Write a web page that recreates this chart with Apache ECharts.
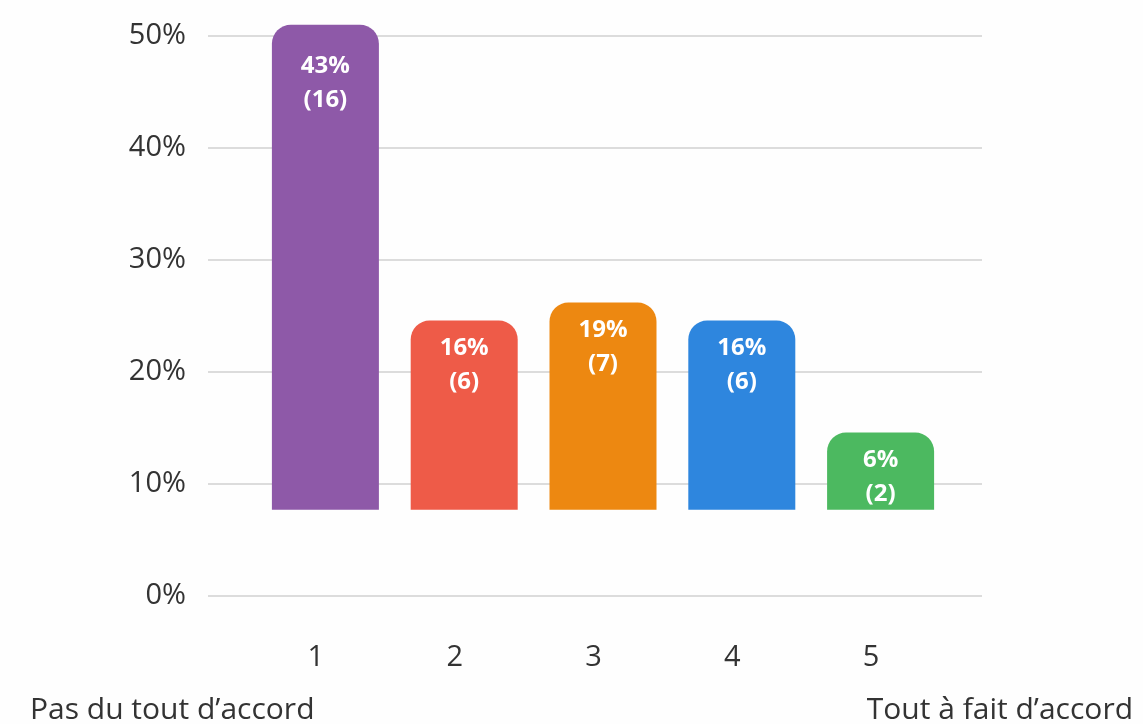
<!DOCTYPE html>
<html>
<head>
<meta charset="utf-8">
<script src="https://cdn.jsdelivr.net/npm/echarts@6/dist/echarts.min.js"></script>
<style>
html,body{margin:0;padding:0;background:#fefefe;}
#chart{width:1143px;height:724px;}
</style>
</head>
<body>
<div id="chart"></div>
<script>
// Data
const categories = ['1', '2', '3', '4', '5'];
const percentLabels = [43, 16, 19, 16, 6];
const counts = [16, 6, 7, 6, 2];
// bar extents as read on the % axis (bars float from a common base)
const barBase = 7.7;
const barTops = [51.0, 24.6, 26.2, 24.6, 14.6];
const yTicks = [0, 10, 20, 30, 40, 50];
const leftEndLabel = 'Pas du tout d’accord';
const rightEndLabel = 'Tout à fait d’accord';

const colors = ['#8e59a8', '#ee5b48', '#ed8811', '#2e86de', '#4cb960'];
const FONT = 'Open Sans';

const chart = echarts.init(document.getElementById('chart'));

const barData = barTops.map((t, i) => ({
  value: +(t - barBase).toFixed(2),
  itemStyle: { color: colors[i] },
  label: i === 0 ? { distance: 24 } : {}
}));

chart.setOption({
  backgroundColor: '#fefefe',
  animation: false,
  grid: [
    { left: 208, right: 161, top: 36, bottom: 128 },
    { left: 256, right: 193, top: 36, bottom: 128 }
  ],
  xAxis: [
    { type: 'value', gridIndex: 0, show: false, min: 0, max: 1 },
    {
      type: 'category', gridIndex: 1, data: categories,
      axisLine: { show: false }, axisTick: { show: false },
      axisLabel: {
        color: '#333', fontFamily: FONT, fontSize: 29, margin: 47,
        padding: [0, 19, 0, 0]
      }
    }
  ],
  yAxis: [
    {
      type: 'value', gridIndex: 0, min: yTicks[0], max: yTicks[yTicks.length - 1], interval: 10,
      axisLine: { show: false }, axisTick: { show: false },
      axisLabel: { formatter: '{value}%', color: '#333', fontFamily: FONT, fontSize: 29, margin: 22, padding: [4, 0, 0, 0] },
      splitLine: { lineStyle: { color: '#dcdcdc', width: 2 } }
    },
    { type: 'value', gridIndex: 1, min: 0, max: 50, show: false }
  ],
  series: [
    {
      type: 'bar', xAxisIndex: 1, yAxisIndex: 1, stack: 'b', clip: false,
      data: categories.map(() => barBase),
      itemStyle: { color: 'transparent' }, barWidth: 107, silent: true
    },
    {
      type: 'bar', xAxisIndex: 1, yAxisIndex: 1, stack: 'b', clip: false,
      data: barData, barWidth: 107,
      itemStyle: { borderRadius: [19, 19, 0, 0] },
      label: {
        show: true, position: 'insideTop', distance: 11,
        color: '#fff', fontFamily: FONT, fontWeight: 'bold', fontSize: 24, lineHeight: 34,
        formatter: p => percentLabels[p.dataIndex] + '%\n(' + counts[p.dataIndex] + ')'
      }
    }
  ],
  graphic: [
    { type: 'text', left: 30, top: 695, style: { text: leftEndLabel, fill: '#333', font: '30px "Open Sans"' } },
    { type: 'text', right: 10, top: 695, style: { text: rightEndLabel, fill: '#333', font: '30px "Open Sans"' } }
  ]
});
</script>
</body>
</html>
